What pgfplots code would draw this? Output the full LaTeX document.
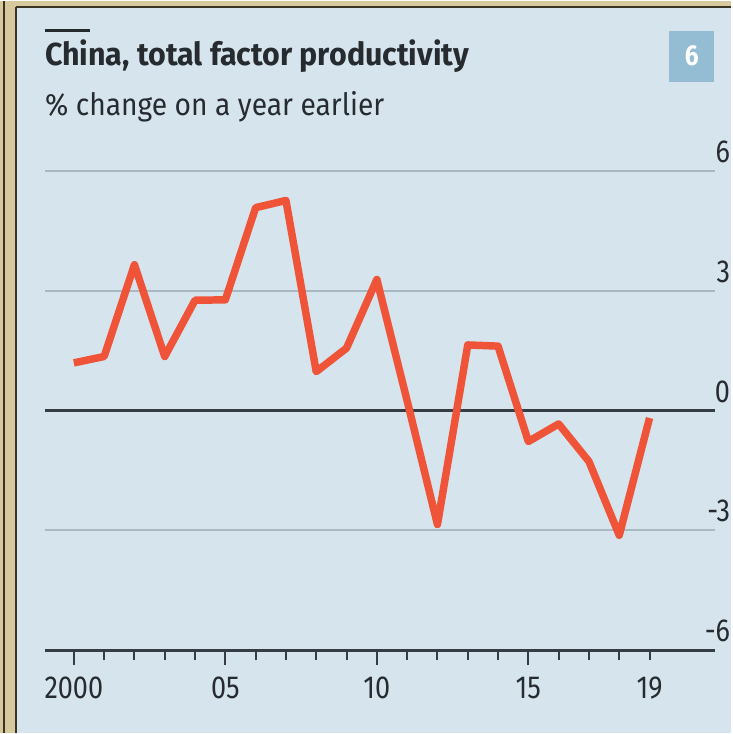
\documentclass[border=0pt]{standalone}
\usepackage{pgfplots}
\pgfplotsset{compat=1.18}
\usepackage{fontspec}
\usepackage{graphicx}
\setmainfont{Fira Sans}[FakeStretch=0.85]
\definecolor{panel}{HTML}{D6E4EE}
\definecolor{framec}{HTML}{D8C89E}
\definecolor{framedark}{HTML}{3B3324}
\definecolor{econred}{HTML}{EF5438}
\definecolor{gridc}{HTML}{A9B9C3}
\definecolor{axisc}{HTML}{353C43}
\definecolor{txt}{HTML}{262B30}
\definecolor{boxc}{HTML}{94BDD3}
\pgfplotstableread{
year tfp
2000 1.20
2001 1.36
2002 3.66
2003 1.36
2004 2.77
2005 2.78
2006 5.09
2007 5.27
2008 0.98
2009 1.57
2010 3.29
2011 0.25
2012 -2.85
2013 1.65
2014 1.62
2015 -0.77
2016 -0.33
2017 -1.27
2018 -3.12
2019 -0.18
}\tfpdata
\begin{document}
\begin{tikzpicture}
% frame and panel
\fill[framec] (0,0) rectangle (733bp,-734bp);
\fill[panel] (17bp,-7bp) rectangle (733bp,-734bp);
\draw[framedark, line width=1.5bp] (4bp,0) -- (4bp,-734bp);
\draw[framedark, line width=2bp] (16bp,-6bp) -- (733bp,-6bp);
\draw[framedark, line width=2bp] (16bp,-6bp) -- (16bp,-734bp);
% title block
\draw[txt, line width=2.5bp] (45bp,-30bp) -- (90bp,-30bp);
\node[anchor=base west, inner sep=0pt, text=txt] at (45bp,-65bp)
  {\resizebox{425bp}{\height}{\fontsize{32}{36}\selectfont\bfseries China, total factor productivity}};
\node[anchor=base west, inner sep=0pt, text=txt] at (45bp,-115bp)
  {\resizebox{340bp}{\height}{\fontsize{31}{34}\selectfont \% change on a year earlier}};
\fill[boxc] (671bp,-30bp) rectangle (716bp,-81bp);
\node[text=white, inner sep=0pt, font=\fontsize{29}{32}\selectfont\bfseries] at (693.5bp,-55.5bp) {6};
\begin{axis}[
  at={(45bp,-651bp)}, anchor=south west,
  width=672bp, height=480bp, scale only axis,
  xmin=1999.045, xmax=2021.17, ymin=-6, ymax=6,
  axis line style={draw=none},
  xtick pos=bottom,
  ytick pos=right,
  tick align=outside,
  xtick={2000,2005,2010,2015},
  xticklabels={2000,05,10,15},
  minor xtick={2001,2002,2003,2004,2006,2007,2008,2009,2011,2012,2013,2014,2016,2017,2018,2019},
  major tick length=15bp,
  minor tick length=10bp,
  xtick style={axisc, line width=2bp},
  minor tick style={axisc, line width=2bp},
  ytick={-3,3,6},
  yticklabels={-3,3,6},
  extra y ticks={-6,0},
  extra y tick labels={-6,0},
  extra y tick style={grid style={axisc, line width=2.8bp}},
  ytick style={draw=none},
  ymajorgrids,
  grid style={gridc, line width=2bp},
  yticklabel pos=right,
  yticklabel style={anchor=south east, inner sep=0pt, xshift=0bp, yshift=8bp, text=txt, font=\fontsize{32}{36}\selectfont},
  xticklabel style={anchor=north, inner sep=0pt, yshift=-12bp, text=txt, font=\fontsize{32}{36}\selectfont},
  extra x ticks={2019},
  extra x tick labels={19},
  extra x tick style={major tick length=0bp, xticklabel style={yshift=-15bp}},
  clip=false,
]
\addplot[econred, line width=7.5bp, line join=round, line cap=butt] table[x=year, y=tfp] {\tfpdata};
\end{axis}
\end{tikzpicture}
\end{document}
